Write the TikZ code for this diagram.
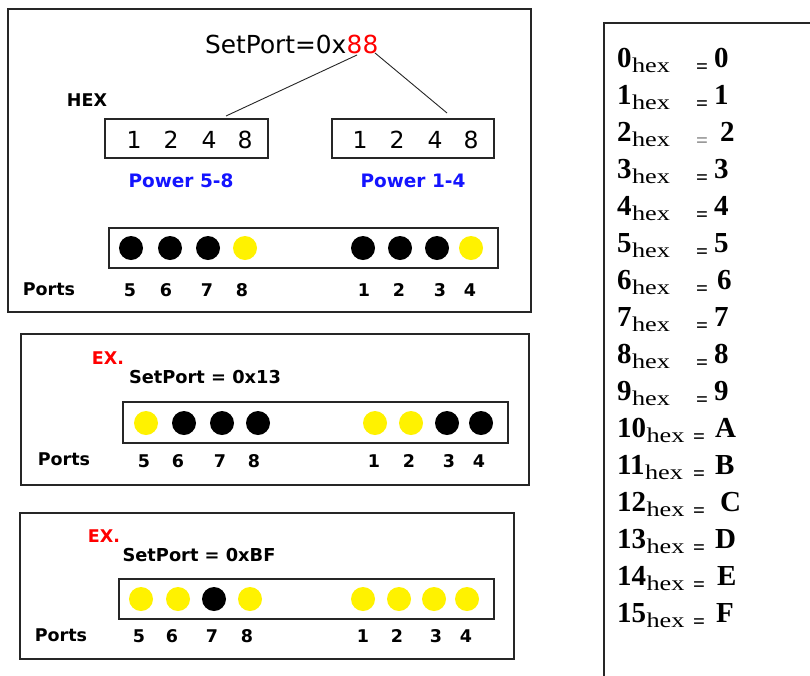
\documentclass[tikz,border=0pt]{standalone}
\usepackage{fontspec}
\newfontfamily\vfont{DejaVu Sans}
\newfontfamily\tfont{Liberation Serif}
\newcommand\myfs[1]{\fontsize{#1}{#1}\selectfont}
\definecolor{pblue}{RGB}{20,20,255}
\definecolor{exred}{RGB}{255,0,0}
\begin{document}
\begin{tikzpicture}[x=1pt,y=-1pt,
  panel/.style={draw=black!85, line width=1.7pt},
  frame/.style={draw=black!85, line width=1.3pt},
  conn/.style={draw=black!85, line width=0.9pt},
  led/.style={circle, inner sep=0pt, minimum size=24pt},
  bignum/.style={font=\vfont\myfs{23.5}, inner sep=0pt},
  portnum/.style={font=\vfont\bfseries\myfs{17.5}, inner sep=0pt},
  lbl/.style={font=\vfont\bfseries\myfs{17.5}, inner sep=0pt},
  pwr/.style={font=\vfont\bfseries\myfs{18.5}, text=pblue, inner sep=0pt},
  exlbl/.style={font=\vfont\bfseries\myfs{17.5}, text=exred, inner sep=0pt},
  setlbl/.style={font=\vfont\bfseries\myfs{17.8}, inner sep=0pt},
  tnum/.style={font=\tfont\bfseries\myfs{29}, inner sep=0pt, anchor=base west},
  thex/.style={font=\tfont\myfs{21}, inner sep=0pt, anchor=base west},
  teq/.style={font=\tfont\bfseries\myfs{21}, inner sep=0pt, anchor=base},
]
\useasboundingbox[fill=white] (0,0) rectangle (810,675);

% ---------------- Panel 1 ----------------
\draw[panel] (8,9) rectangle (531,312);
\node[font=\vfont\myfs{24.8}, inner sep=0pt, anchor=base west] (sp) at (205,53) {SetPort=0x};
\node[font=\vfont\myfs{24.8}, text=exred, inner sep=0pt, anchor=base west] (ee) at (sp.base east) {88};
\node[lbl] (hex) at (87,100) {HEX};
\node[frame, minimum width=163pt, minimum height=39pt, inner sep=0pt] (boxA) at (186.5,138.5) {};
\node[frame, minimum width=162pt, minimum height=39pt, inner sep=0pt] (boxB) at (413,138.5) {};
\coordinate (s1) at (357,55);
\coordinate (s2) at (375,53);
\coordinate (t1) at (226,116);
\coordinate (t2) at (447,113);
\draw[conn] (s1) -- (t1);
\draw[conn] (s2) -- (t2);
\foreach \x/\t [count=\i] in {134/1,171/2,209/4,245/8}
  \node[bignum] (da\i) at (\x,140) {\t};
\foreach \x/\t [count=\i] in {360/1,397/2,435/4,471/8}
  \node[bignum] (db\i) at (\x,140) {\t};
\node[pwr] (pw1) at (181,181) {Power 5-8};
\node[pwr] (pw2) at (413,181) {Power 1-4};
\node[frame, minimum width=389pt, minimum height=40pt, inner sep=0pt] (ledsA) at (303.5,248) {};
\foreach \x/\c [count=\i] in {131/black,170/black,208/black,245/yellow,363/black,400/black,437/black,471/yellow}
  \node[led, fill=\c] (la\i) at (\x,248) {};
\node[lbl] (portsA) at (49,289) {Ports};
\foreach \x/\t [count=\i] in {130/5,166/6,207/7,242/8,364/1,399/2,440/3,470/4}
  \node[portnum] (pa\i) at (\x,290) {\t};

% ---------------- Panel 2 ----------------
\draw[panel] (21,334) rectangle (529,485);
\node[exlbl] (ex2) at (108,358) {EX.};
\node[setlbl] (set2) at (205,377) {SetPort = 0x13};
\node[frame, minimum width=385pt, minimum height=41pt, inner sep=0pt] (ledsB) at (315.5,422.5) {};
\foreach \x/\c [count=\i] in {146/yellow,184/black,222/black,258/black,375/yellow,411/yellow,447/black,481/black}
  \node[led, fill=\c] (lb\i) at (\x,423) {};
\node[lbl] (portsB) at (64,459) {Ports};
\foreach \x/\t [count=\i] in {144/5,178/6,220/7,254/8,374/1,409/2,449/3,479/4}
  \node[portnum] (pb\i) at (\x,461) {\t};

% ---------------- Panel 3 ----------------
\draw[panel] (20,513) rectangle (514,659);
\node[exlbl] (ex3) at (104,536) {EX.};
\node[setlbl] (set3) at (199,555) {SetPort = 0xBF};
\node[frame, minimum width=375pt, minimum height=40pt, inner sep=0pt] (ledsC) at (306.5,599) {};
\foreach \x/\c [count=\i] in {141/yellow,178/yellow,214/black,250/yellow,363/yellow,399/yellow,434/yellow,467/yellow}
  \node[led, fill=\c] (lc\i) at (\x,599) {};
\node[lbl] (portsC) at (61,635) {Ports};
\foreach \x/\t [count=\i] in {139/5,172/6,212/7,247/8,363/1,397/2,436/3,466/4}
  \node[portnum] (pc\i) at (\x,636) {\t};

% ---------------- Hex table ----------------
\draw[panel] (814,23) -- (604,23) -- (604,679);
\foreach \n/\v/\ex/\vx/\ec [count=\i from 0] in {
  0/0/702/714/black, 1/1/702/714/black, 2/2/702/720/black!45,
  3/3/702/714/black, 4/4/702/714/black, 5/5/702/714/black,
  6/6/702/717/black, 7/7/702/714/black, 8/8/702/714/black,
  9/9/702/714/black, 10/A/699/715/black, 11/B/699/715/black,
  12/C/699/720/black, 13/D/699/715/black, 14/E/699/717/black,
  15/F/699/716/black}
{
  \pgfmathsetmacro{\by}{67+37*\i}
  \node[tnum] (r\i) at (617,\by) {\n};
  \node[thex] (h\i) at ([yshift=-5pt]r\i.base east) {\scalebox{1.25}[1]{hex}};
  \node[teq, text=\ec] (e\i) at (\ex,\by+6) {=};
  \node[tnum] (v\i) at (\vx,\by) {\v};
}
\end{tikzpicture}
\end{document}
